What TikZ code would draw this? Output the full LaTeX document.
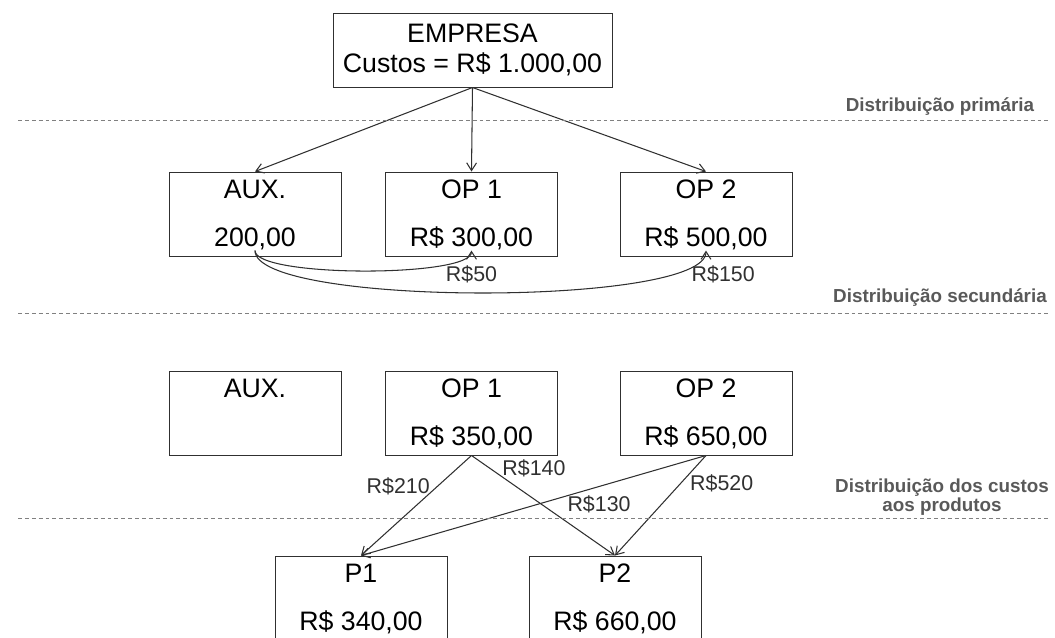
\documentclass[tikz,border=0pt]{standalone}
\usepackage{fontspec}
\setmainfont{Liberation Sans}
\usepackage{tikz}
\usetikzlibrary{arrows.meta,positioning,calc}
\definecolor{boxline}{HTML}{303030}
\definecolor{sepgray}{HTML}{808080}
\definecolor{phasegray}{HTML}{595959}

\begin{document}
\begin{tikzpicture}[
  font=\fontsize{19}{21.3}\selectfont, every node/.style={align=center},
  box/.style={draw=boxline,line width=0.7pt,
              minimum width=4.3cm,minimum height=2.1cm,inner sep=0pt},
  ttl/.style={inner sep=0pt},
  val/.style={inner sep=0pt,anchor=base},
  arr/.style={-{Straight Barb[length=5.5pt,width=7pt]},line width=0.75pt,boxline},
  sep/.style={sepgray,line width=0.7pt,dash pattern=on 2.8pt off 2.1pt},
  phase/.style={font=\fontsize{13.4}{13}\selectfont\bfseries,phasegray},
  cost/.style={font=\fontsize{15.2}{17}\selectfont,inner sep=2pt}
]
\clip (0,0) rectangle (26.375,-15.925);

% company
\node[box,minimum width=6.975cm,minimum height=1.85cm] (emp) at (11.8125,-1.25)
  {EMPRESA\\Custos = R\$ 1.000,00};

% primary distribution
\node[box] (aux1) at (6.375,-5.35)   {};
\node[box] (op1a) at (11.7875,-5.35) {};
\node[box] (op2a) at (17.65,-5.35)   {};
\node[ttl,below=0.21cm of aux1.north] (aux1t) {AUX.};
\node[ttl,below=0.21cm of op1a.north] (op1at) {OP 1};
\node[ttl,below=0.21cm of op2a.north] (op2at) {OP 2};
\node[val] (aux1v) at ([yshift=0.24cm]aux1.south) {200,00};
\node[val] (op1av) at ([yshift=0.24cm]op1a.south) {R\$ 300,00};
\node[val] (op2av) at ([yshift=0.24cm]op2a.south) {R\$ 500,00};

\draw[arr] (emp.south) -- (aux1.north);
\draw[arr] (emp.south) -- (op1a.north);
\draw[arr] (emp.south) -- (op2a.north);

% secondary distribution
\draw[arr] (aux1v.south) to[out=-90,in=-90,looseness=0.32]
  node[at end,below=8.5pt,cost]{R\$50} (op1av.south);
\draw[arr] (aux1v.south) to[out=-90,in=-90,looseness=0.32]
  node[at end,below=8.5pt,xshift=0.43cm,cost]{R\$150} (op2av.south);

% after reallocation
\node[box] (aux2) at (6.375,-10.325)   {};
\node[box] (op1b) at (11.7875,-10.325) {};
\node[box] (op2b) at (17.65,-10.325)   {};
\node[ttl,below=0.21cm of aux2.north] (aux2t) {AUX.};
\node[ttl,below=0.21cm of op1b.north] (op1bt) {OP 1};
\node[ttl,below=0.21cm of op2b.north] (op2bt) {OP 2};
\node[val] (op1bv) at ([yshift=0.24cm]op1b.south) {R\$ 350,00};
\node[val] (op2bv) at ([yshift=0.24cm]op2b.south) {R\$ 650,00};

% products
\node[box] (p1) at (9.025,-14.95)  {};
\node[box] (p2) at (15.375,-14.95) {};
\node[ttl,below=0.21cm of p1.north] (p1t) {P1};
\node[ttl,below=0.21cm of p2.north] (p2t) {P2};
\node[val] (p1v) at ([yshift=0.24cm]p1.south) {R\$ 340,00};
\node[val] (p2v) at ([yshift=0.24cm]p2.south) {R\$ 660,00};

\draw[arr] (op1b.south) -- node[pos=0.31,left=3pt,cost]{R\$210} (p1.north);
\draw[arr] (op1b.south) -- node[pos=0.13,right=6.4pt,cost]{R\$140} (p2.north);
\draw[arr] (op2b.south) -- node[pos=0.31,below=4pt,cost]{R\$130} (p1.north);
\draw[arr] (op2b.south) -- node[pos=0.28,right=4.5pt,cost]{R\$520} (p2.north);

% phase separators
\draw[sep] (0.45,-3.02) -- (26.25,-3.02);
\draw[sep] (0.45,-7.825) -- (26.25,-7.825);
\draw[sep] (0.45,-12.95) -- (26.25,-12.95);
\node[phase] (ph1) at (23.5,-2.675) {Distribuição primária};
\node[phase] (ph2) at (23.5,-7.45)  {Distribuição secundária};
\node[phase] (ph3) at (23.55,-12.43) {Distribuição dos custos\\aos produtos};
\end{tikzpicture}
\end{document}
